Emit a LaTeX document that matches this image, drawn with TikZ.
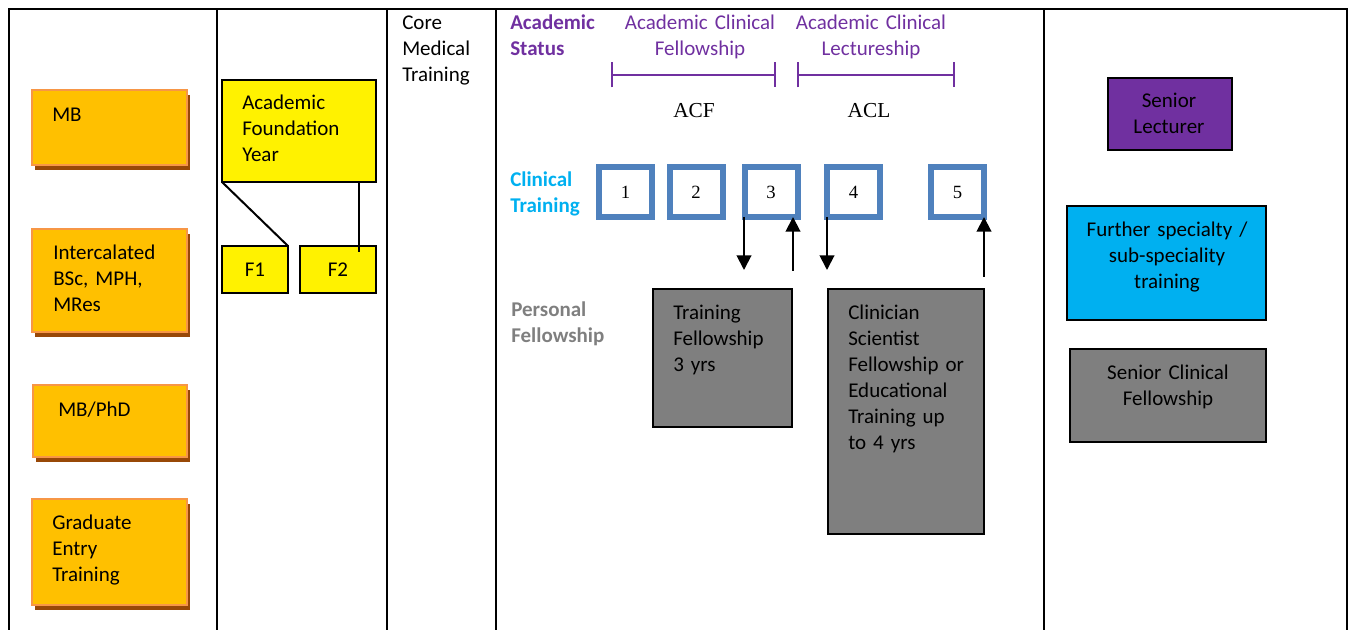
\documentclass[tikz,border=0pt]{standalone}
\usepackage{fontspec}
\setmainfont{Carlito}
\newfontfamily\serif{Liberation Serif}
\usepackage{tikz}
\usetikzlibrary{arrows.meta,positioning,fit,shadows}

\definecolor{boxorange}{HTML}{FFC000}
\definecolor{edgeorange}{HTML}{F79646}
\definecolor{shadebrown}{HTML}{984807}
\definecolor{acpurple}{HTML}{7030A0}
\definecolor{clinblue}{HTML}{00B0F0}
\definecolor{yrblue}{HTML}{4F81BD}
\definecolor{fellgrey}{HTML}{7F7F7F}

\tikzset{
  txt/.style={inner sep=0pt, text width=160pt, align=left, anchor=base west,
    font=\fontsize{15.75}{19.5}\selectfont},
  ctxt/.style={txt, align=center, anchor=base},
  orangebox/.style={draw=edgeorange, line width=1.5pt, fill=boxorange, inner sep=0pt,
    drop shadow={shadow xshift=2.25pt, shadow yshift=-3.5pt, fill=shadebrown, opacity=1}},
  yellowbox/.style={draw, line width=1.5pt, fill=yellow, inner sep=0pt, outer sep=0pt,
    font=\fontsize{15.75}{19.5}\selectfont},
  yearbox/.style={draw=yrblue, line width=4.5pt, fill=white, inner sep=0pt, outer sep=0pt,
    minimum width=39.75pt, minimum height=37.5pt, font=\serif\fontsize{14}{16}\selectfont},
  greybox/.style={draw, line width=1.5pt, fill=fellgrey, inner sep=0pt, outer sep=0pt},
  grid/.style={line width=1.5pt},
  link/.style={line width=1.5pt},
  span/.style={draw=acpurple, line width=1.2pt, {Bar[width=18.75pt]}-{Bar[width=18.75pt]}},
  arr/.style={line width=1.5pt, -{Triangle[width=11pt,length=11pt]}}
}

\begin{document}
\begin{tikzpicture}[x=0.75pt,y=-0.75pt]
\useasboundingbox (0,0) rectangle (1349,630);

% table lines
\draw[grid] (9,630) -- (9,9) -- (1347,9) -- (1347,630);
\draw[grid] (217,9) -- (217,630);
\draw[grid] (387,9) -- (387,630);
\draw[grid] (496,9) -- (496,630);
\draw[grid] (1044,9) -- (1044,630);

% degrees
\node[orangebox, fit={(32,90) (187,165)}] (mb) {};
\node[orangebox, fit={(32,229) (187,332)}] (ib) {};
\node[orangebox, fit={(33,385) (187,457)}] (mp) {};
\node[orangebox, fit={(32,499) (187,605)}] (ge) {};
\node[txt] (mbtxt) at (52,122) {MB};
\node[txt] (ibtxt) at (53,260) {Intercalated\\BSc, MPH,\\MRes};
\node[txt] (mptxt) at (58,417) {MB/PhD};
\node[txt] (getxt) at (52,529) {Graduate\\Entry\\Training};

% foundation
\node[yellowbox, fit={(222,80) (376,182)}] (afy) {};
\node[txt] (afytxt) at (242,110) {Academic\\Foundation\\Year};
\node[yellowbox, minimum width=49.5pt, minimum height=35.25pt] (f1) at (255,269.5) {F1};
\node[yellowbox, minimum width=57pt, minimum height=35.25pt] (f2) at (338,269.5) {F2};
\draw[link] (afy.south west) -- (f1.north east);
\draw[link] ([xshift=-12.75pt]afy.south east) -- ([xshift=-12.75pt,yshift=-4.5pt]f2.north east);

% core medical training
\node[txt] (cmt) at (402,30) {Core\\Medical\\Training};

% academic status
\node[txt, font=\bfseries\fontsize{15.75}{19.5}\selectfont, text=acpurple] (ast) at (510,30) {Academic\\Status};
\node[ctxt, text=acpurple] (acfl) at (700,30) {Academic Clinical\\Fellowship};
\node[ctxt, text=acpurple] (acll) at (871,30) {Academic Clinical\\Lectureship};
\draw[span] (611,75) -- (776,75);
\draw[span] (797,75) -- (955,75);
\node[inner sep=0pt, anchor=base, font=\serif\fontsize{16}{18}\selectfont] (acf) at (694,118) {ACF};
\node[inner sep=0pt, anchor=base, font=\serif\fontsize{16}{18}\selectfont] (acl) at (869,118) {ACL};

% clinical training
\node[txt, font=\bfseries\fontsize{15.75}{19.5}\selectfont, text=clinblue] (ct) at (510,187) {Clinical\\Training};
\node[yearbox] (b1) at (625.5,192) {1};
\node[yearbox] (b2) at (696,192) {2};
\node[yearbox] (b3) at (771,192) {3};
\node[yearbox] (b4) at (853.5,192) {4};
\node[yearbox] (b5) at (957.5,192) {5};

% personal fellowship
\node[txt, font=\bfseries\fontsize{15.75}{19.5}\selectfont, text=fellgrey] (pf) at (511,317) {Personal\\Fellowship};
\node[greybox, fit={(653,289) (792,427)}] (tf) {};
\node[greybox, fit={(828,289) (984,534)}] (cs) {};
\node[txt] (tftxt) at (673,320) {Training\\Fellowship\\3 yrs};
\node[txt] (cstxt) at (848,320) {Clinician\\Scientist\\Fellowship or\\Educational\\Training up\\to 4 yrs};

% arrows
\coordinate (a1) at (744,270);
\coordinate (a2) at (793,271);
\coordinate (a3) at (827,270);
\coordinate (a4) at (984,277);
\draw[arr] (b3.south -| a1) -- (a1);
\draw[arr] (a2) -- (b3.south -| a2);
\draw[arr] (b4.south -| a3) -- (a3);
\draw[arr] (a4) -- (b5.south -| a4);

% senior posts
\node[draw, line width=1.5pt, fill=acpurple, inner sep=0pt, fit={(1108,78) (1232,150)}] (sl) {};
\node[draw, line width=1.5pt, fill=clinblue, inner sep=0pt, fit={(1067,206) (1266,320)}] (fs) {};
\node[greybox, fit={(1070,349) (1266,442)}] (sc) {};
\node[ctxt] (sltxt) at (1169,108) {Senior\\Lecturer};
\node[ctxt] (fstxt) at (1167,237) {Further specialty /\\sub-speciality\\training};
\node[ctxt] (sctxt) at (1168,380) {Senior Clinical\\Fellowship};
\end{tikzpicture}
\end{document}
